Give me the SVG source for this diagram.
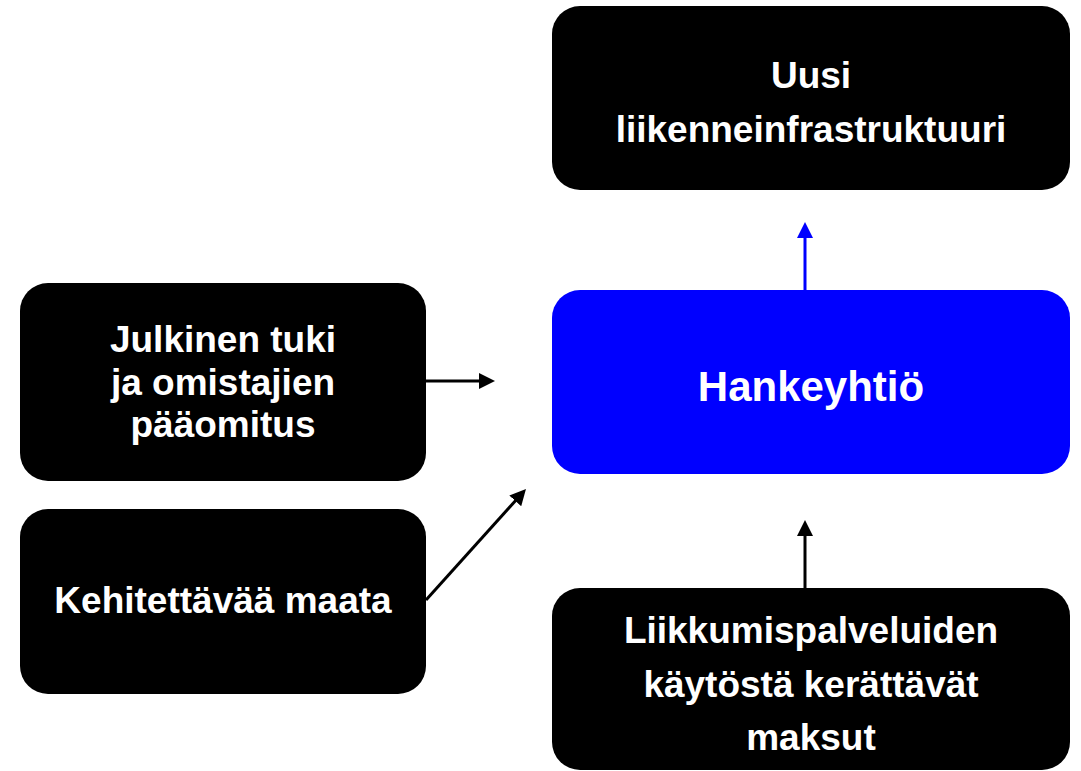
<svg xmlns="http://www.w3.org/2000/svg" width="1081" height="771" viewBox="0 0 1081 771">
  <style>
    .box { fill: #000000; }
    .blue { fill: #0000FF; }
    .t { font-family: "Liberation Sans", Arial, sans-serif; font-weight: bold; fill: #FFFFFF; text-anchor: middle; font-size: 37px; }
    .big { font-size: 42px; }
    .conn { stroke: #000000; stroke-width: 3; fill: none; }
    .connb { stroke: #0000FF; stroke-width: 3; fill: none; }
  </style>
  <defs>
    <marker id="ah" viewBox="0 0 16 16" refX="2" refY="8" markerWidth="16" markerHeight="16" markerUnits="userSpaceOnUse" orient="auto">
      <path d="M0,0 L16,8 L0,16 z" fill="#000000"/>
    </marker>
    <marker id="ahb" viewBox="0 0 16 16" refX="2" refY="8" markerWidth="16" markerHeight="16" markerUnits="userSpaceOnUse" orient="auto">
      <path d="M0,0 L16,8 L0,16 z" fill="#0000FF"/>
    </marker>
  </defs>

  <g id="connectors">
    <line class="connb" x1="805" y1="290" x2="805" y2="236" marker-end="url(#ahb)"/>
    <line class="conn" x1="805" y1="588" x2="805" y2="534" marker-end="url(#ah)"/>
    <line class="conn" x1="426" y1="381" x2="481" y2="381" marker-end="url(#ah)"/>
    <line class="conn" x1="426" y1="600" x2="516.6" y2="499.4" marker-end="url(#ah)"/>
  </g>

  <g id="node-infra">
    <rect class="box" x="552" y="6" width="518" height="184" rx="28" ry="28"/>
    <text class="t" x="811" y="88">Uusi</text>
    <text class="t" x="811" y="142">liikenneinfrastruktuuri</text>
  </g>

  <g id="node-hankeyhtio">
    <rect class="blue" x="552" y="290" width="518" height="184" rx="28" ry="28"/>
    <text class="t big" x="811" y="401">Hankeyhtiö</text>
  </g>

  <g id="node-julkinen">
    <rect class="box" x="20" y="283" width="406" height="198" rx="28" ry="28"/>
    <text class="t" x="223" y="352">Julkinen tuki</text>
    <text class="t" x="223" y="395">ja omistajien</text>
    <text class="t" x="223" y="437">pääomitus</text>
  </g>

  <g id="node-maata">
    <rect class="box" x="20" y="509" width="406" height="185" rx="28" ry="28"/>
    <text class="t" x="223" y="613">Kehitettävää maata</text>
  </g>

  <g id="node-maksut">
    <rect class="box" x="552" y="588" width="518" height="182" rx="28" ry="28"/>
    <text class="t" x="811" y="643">Liikkumispalveluiden</text>
    <text class="t" x="811" y="697">käytöstä kerättävät</text>
    <text class="t" x="811" y="750">maksut</text>
  </g>
</svg>
